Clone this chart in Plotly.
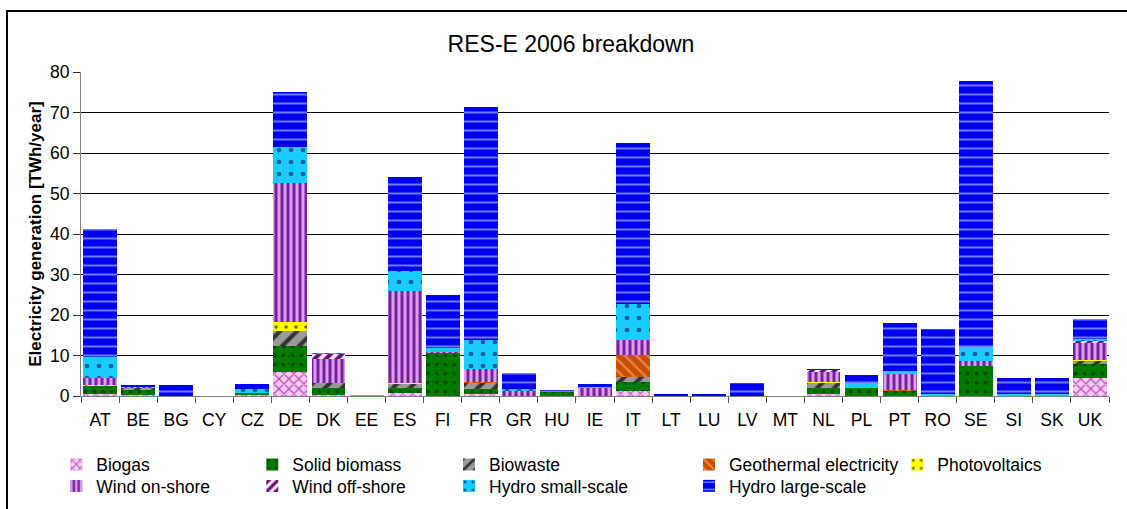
import plotly.graph_objects as go

countries = ["AT", "BE", "BG", "CY", "CZ", "DE", "DK", "EE", "ES", "FI", "FR", "GR", "HU", "IE",
             "IT", "LT", "LU", "LV", "MT", "NL", "PL", "PT", "RO", "SE", "SI", "SK", "UK"]

#              AT    BE    BG    CY   CZ    DE    DK    EE    ES    FI    FR    GR    HU    IE
biogas =      [0.4, 0.15, 0.0, 0.0, 0.13, 5.9, 0.3, 0.0, 0.7, 0.0, 0.45, 0.05, 0.05, 0.1,
               1.2, 0.0, 0.05, 0.0, 0.0, 0.5, 0.1, 0.05, 0.0, 0.0, 0.0, 0.0, 4.5]
solid_biomass = [2.2, 1.35, 0.02, 0.0, 0.7, 6.4, 1.7, 0.07, 1.3, 10.8, 1.25, 0.0, 1.0, 0.0,
                 2.25, 0.02, 0.0, 0.0, 0.0, 1.6, 1.95, 1.4, 0.0, 7.4, 0.1, 0.1, 3.3]
biowaste =    [0.1, 0.55, 0.0, 0.0, 0.0, 3.7, 1.15, 0.0, 1.1, 0.0, 1.55, 0.0, 0.05, 0.0,
               1.2, 0.0, 0.0, 0.0, 0.0, 1.3, 0.0, 0.0, 0.0, 0.0, 0.0, 0.0, 1.0]
geothermal =  [0.0, 0.0, 0.0, 0.0, 0.0, 0.0, 0.0, 0.0, 0.0, 0.0, 0.1, 0.0, 0.0, 0.0,
               5.55, 0.0, 0.0, 0.0, 0.0, 0.0, 0.0, 0.1, 0.0, 0.0, 0.0, 0.0, 0.0]
photovoltaics = [0.02, 0.0, 0.0, 0.0, 0.0, 2.3, 0.0, 0.0, 0.1, 0.0, 0.0, 0.0, 0.0, 0.0,
                 0.02, 0.0, 0.0, 0.0, 0.0, 0.03, 0.0, 0.0, 0.0, 0.0, 0.0, 0.0, 0.01]
wind_onshore = [1.8, 0.35, 0.0, 0.0, 0.0, 34.2, 6.0, 0.07, 22.7, 0.15, 3.2, 1.4, 0.02, 1.95,
                3.5, 0.0, 0.05, 0.0, 0.0, 2.5, 0.05, 3.8, 0.0, 1.2, 0.0, 0.0, 4.3]
wind_offshore = [0.0, 0.0, 0.0, 0.0, 0.0, 0.0, 1.25, 0.0, 0.0, 0.0, 0.0, 0.0, 0.0, 0.0,
                 0.0, 0.0, 0.0, 0.0, 0.0, 0.6, 0.0, 0.0, 0.0, 0.0, 0.0, 0.0, 0.65]
hydro_small = [5.1, 0.05, 0.1, 0.0, 1.0, 9.0, 0.1, 0.01, 5.0, 0.8, 7.3, 0.4, 0.05, 0.1,
               8.9, 0.05, 0.05, 0.05, 0.0, 0.0, 1.0, 0.8, 0.6, 3.4, 0.5, 0.3, 0.4]
hydro_large = [31.7, 0.3, 2.6, 0.0, 1.05, 13.6, 0.0, 0.0, 23.1, 13.2, 57.6, 3.75, 0.2, 0.85,
               39.9, 0.4, 0.1, 3.1, 0.0, 0.1, 2.0, 11.9, 15.9, 65.7, 3.8, 4.0, 4.8]

series_names = ["Biogas", "Solid biomass", "Biowaste", "Geothermal electricity", "Photovoltaics",
                "Wind on-shore", "Wind off-shore", "Hydro small-scale", "Hydro large-scale"]
series_values = [biogas, solid_biomass, biowaste, geothermal, photovoltaics,
                 wind_onshore, wind_offshore, hydro_small, hydro_large]

patterns = [
    dict(shape="x", bgcolor="#F9CDF5", fgcolor="#C24FC2", size=7, solidity=0.35),
    dict(shape=".", bgcolor="#007A00", fgcolor="#004A00", size=9, solidity=0.15),
    dict(shape="/", bgcolor="#9A9A9A", fgcolor="#333333", size=12, solidity=0.35),
    dict(shape="\\", bgcolor="#C85000", fgcolor="#E8844A", size=8, solidity=0.3),
    dict(shape=".", bgcolor="#FFFF00", fgcolor="#806000", size=10, solidity=0.1),
    dict(shape="|", bgcolor="#D9A0EE", fgcolor="#7A1FA0", size=6, solidity=0.5),
    dict(shape="/", bgcolor="#F5E6F5", fgcolor="#6B0F6B", size=8, solidity=0.5),
    dict(shape=".", bgcolor="#19CCFF", fgcolor="#1060A0", size=12, solidity=0.12),
    dict(shape="-", bgcolor="#0000EE", fgcolor="#6F7CFF", size=9, solidity=0.22),
]

# the page body margin is removed in post_script, so figure coords = screenshot coords
W, H = 1127, 509
L, T = 81, 72
PW, PH = 1028, 324
R = W - L - PW
B = H - T - PH


def px_x(px):
    return (px - L) / PW


def px_y(py):
    return (H - B - py) / PH


FONT = "Arial, Liberation Sans, sans-serif"

# legend entry text positions (x of text start, y of row centre), in screenshot pixels
legend_spots = [(92.3, 464.5), (288.3, 464.5), (485, 464.5), (725, 464.5), (933.3, 464.5),
                (92.3, 486), (288.3, 486), (485, 486), (725, 486)]

fig = go.Figure()
for i, (name, vals, pat) in enumerate(zip(series_names, series_values, patterns)):
    lg = "legend" if i == 0 else f"legend{i + 1}"
    fig.add_trace(go.Bar(
        x=countries, y=vals, name=name, legend=lg,
        marker=dict(color=pat["bgcolor"], line=dict(width=0),
                    pattern=dict(shape=pat["shape"], bgcolor=pat["bgcolor"],
                                 fgcolor=pat["fgcolor"], size=pat["size"],
                                 solidity=pat["solidity"], fillmode="replace")),
    ))

layout_legends = {}
for i, (tx, ty) in enumerate(legend_spots):
    lg = "legend" if i == 0 else f"legend{i + 1}"
    layout_legends[lg] = dict(
        x=px_x(tx - 36), y=px_y(ty), xanchor="left", yanchor="middle",
        orientation="v", bgcolor="rgba(0,0,0,0)", borderwidth=0,
        font=dict(family=FONT, size=17.5, color="#000000"), itemwidth=30,
    )

fig.update_layout(
    width=W, height=H,
    margin=dict(l=L, r=R, t=T, b=B, autoexpand=False),
    paper_bgcolor="white", plot_bgcolor="white",
    barmode="stack", bargap=0.11,
    font=dict(family=FONT, color="#000000"),
    title=dict(text="RES-E 2006 breakdown", x=px_x(571), xref="paper", xanchor="center",
               y=1 - 44 / H, yref="container", yanchor="middle",
               font=dict(family=FONT, size=23, color="#000000")),
    showlegend=True,
    **layout_legends,
)

fig.update_xaxes(
    type="category", tickson="boundaries", ticks="outside", ticklen=6, tickcolor="#555555",
    showline=True, linecolor="#808080", linewidth=1, showgrid=False,
    tickfont=dict(family=FONT, size=17.5, color="#000000"), ticklabelstandoff=8,
    fixedrange=True,
)
fig.update_yaxes(
    range=[0, 80], dtick=10, ticks="outside", ticklen=7, tickcolor="#333333",
    showline=True, linecolor="#808080", linewidth=1,
    showgrid=True, gridcolor="#000000", gridwidth=1, zeroline=False,
    tickfont=dict(family=FONT, size=17.5, color="#000000"),
    title=dict(text="<b>Electricity generation [TWh/year]</b>", standoff=4,
               font=dict(family=FONT, size=17, color="#000000")),
    fixedrange=True,
)

fig.add_shape(type="rect", xref="paper", yref="paper",
              x0=px_x(7), x1=px_x(1145), y0=px_y(11), y1=px_y(530),
              line=dict(color="#000000", width=2), fillcolor="rgba(0,0,0,0)", layer="above")

fig.write_html("out.html", config={"displayModeBar": False},
               post_script="document.body.style.margin='0';document.body.style.overflow='hidden';")
